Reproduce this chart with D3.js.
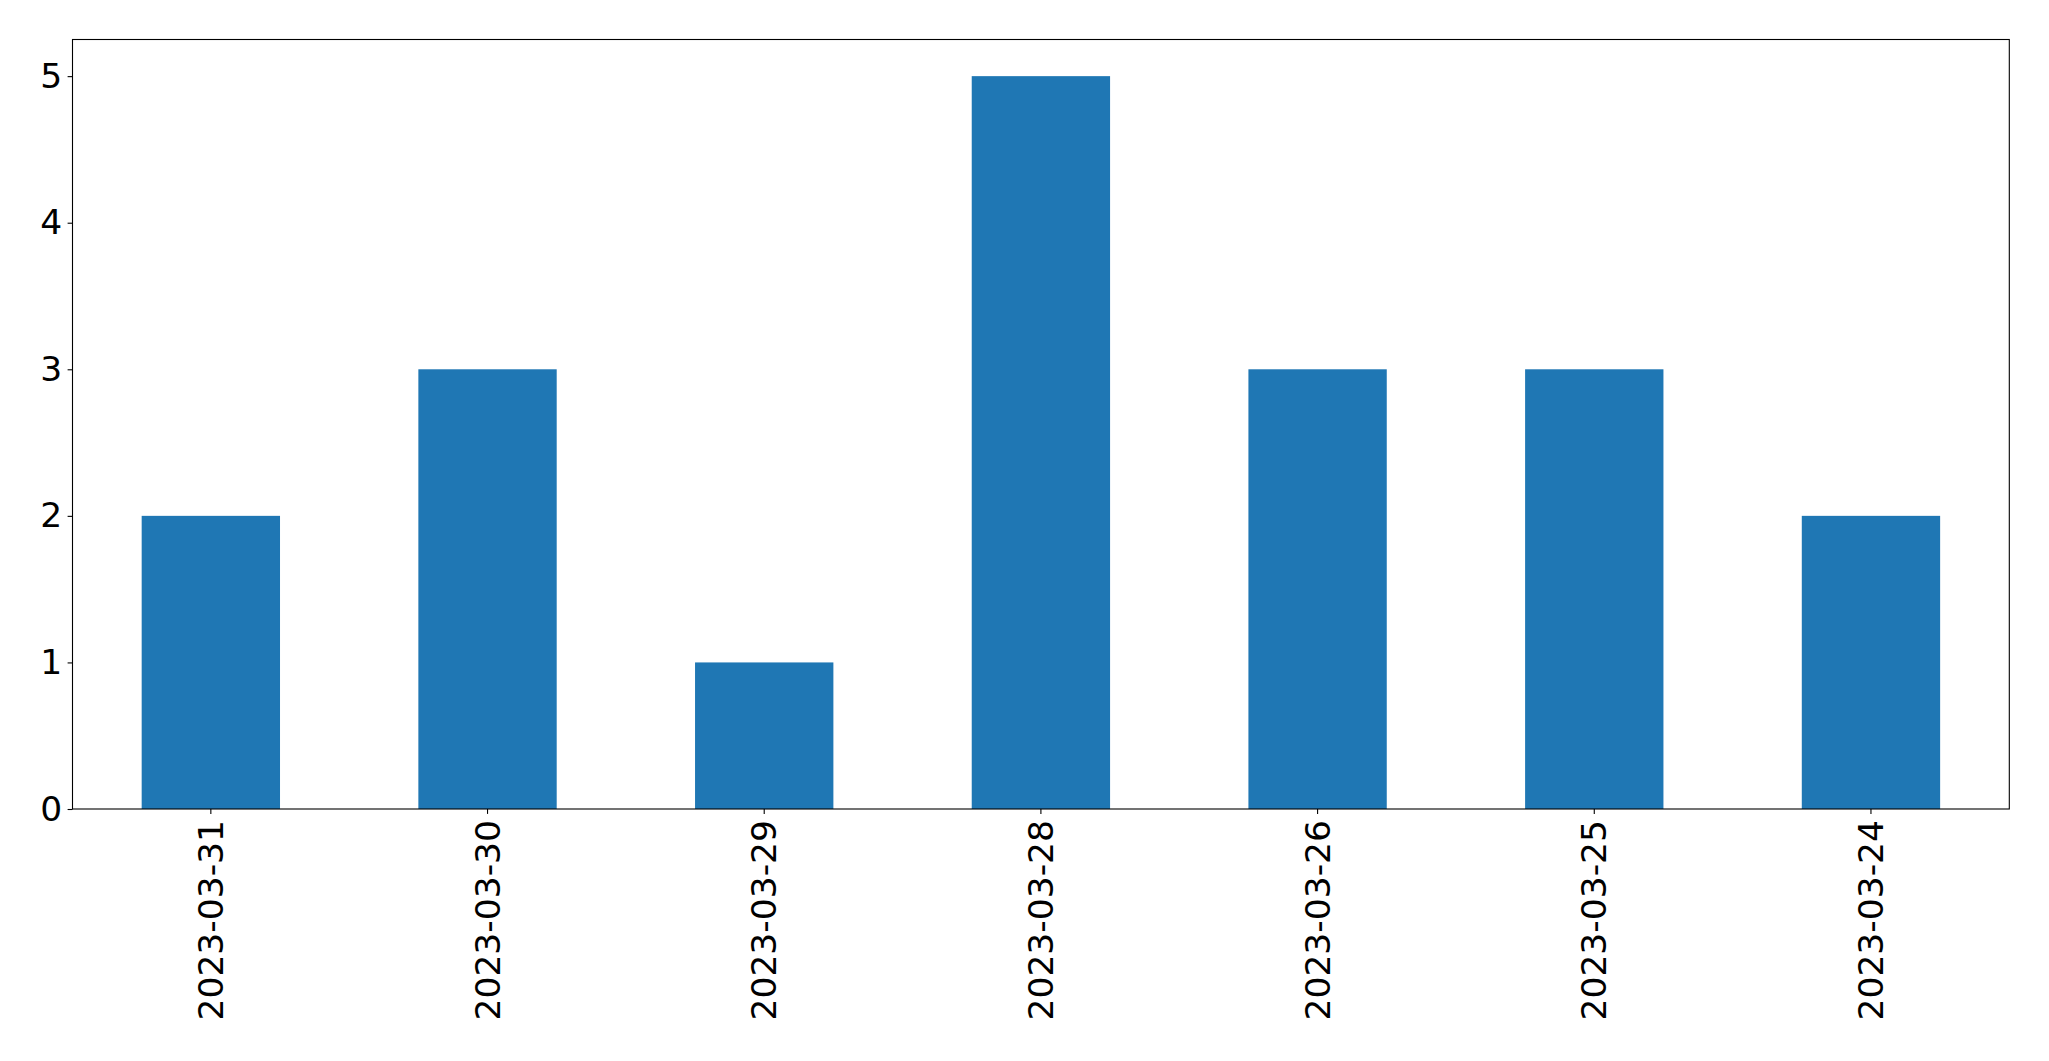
<!DOCTYPE html>
<html><head><meta charset="utf-8">
<script src="https://cdn.jsdelivr.net/npm/d3@7"></script>
<style>body{margin:0;background:#fff}svg{display:block}text{font-family:"DejaVu Sans",sans-serif}</style>
</head><body>
<svg id="chart" width="2049" height="1061"></svg>
<script>
const categories = ["2023-03-31","2023-03-30","2023-03-29","2023-03-28","2023-03-26","2023-03-25","2023-03-24"];
const values = [2,3,1,5,3,3,2];
const yTicks = [0,1,2,3,4,5];

const W = 2049, H = 1061;
const m = {left:72.5, right:W-2009.3, top:39.5, bottom:H-809};
const svg = d3.select("#chart");
const iw = W - m.left - m.right, ih = H - m.top - m.bottom;
const g = svg.append("g").attr("transform",`translate(${m.left},${m.top})`);

const x = d3.scaleBand().domain(categories).range([0,iw]).paddingInner(0.5).paddingOuter(0.25);
const y = d3.scaleLinear().domain([0, d3.max(values)*1.05]).range([ih,0]);

g.selectAll("rect.bar").data(values).join("rect")
  .attr("class","bar")
  .attr("x",(d,i)=>x(categories[i]))
  .attr("width",x.bandwidth())
  .attr("y",d=>y(d))
  .attr("height",d=>ih-y(d))
  .attr("fill","#1f77b4");

const fs = "34.5px";
const yAxis = g.append("g").call(d3.axisLeft(y).tickValues(yTicks).tickFormat(d3.format("d")).tickSize(4.9).tickPadding(5.5));
yAxis.select(".domain").remove();
yAxis.selectAll("line").attr("stroke","#000").attr("stroke-width",1.1);
yAxis.selectAll("text").style("font-size",fs).attr("fill","#000");

const xAxis = g.append("g").attr("transform",`translate(0,${ih})`).call(d3.axisBottom(x).tickSize(4.9).tickPadding(4.9));
xAxis.select(".domain").remove();
xAxis.selectAll("line").attr("stroke","#000").attr("stroke-width",1.1);
xAxis.selectAll("text").style("font-size",fs).attr("fill","#000")
  .attr("transform","rotate(-90)")
  .attr("text-anchor","end")
  .attr("x",-11).attr("y",0).attr("dy","0.35em");

g.append("rect").attr("x",0).attr("y",0).attr("width",iw).attr("height",ih)
  .attr("fill","none").attr("stroke","#000").attr("stroke-width",1.1);
</script>
</body></html>
